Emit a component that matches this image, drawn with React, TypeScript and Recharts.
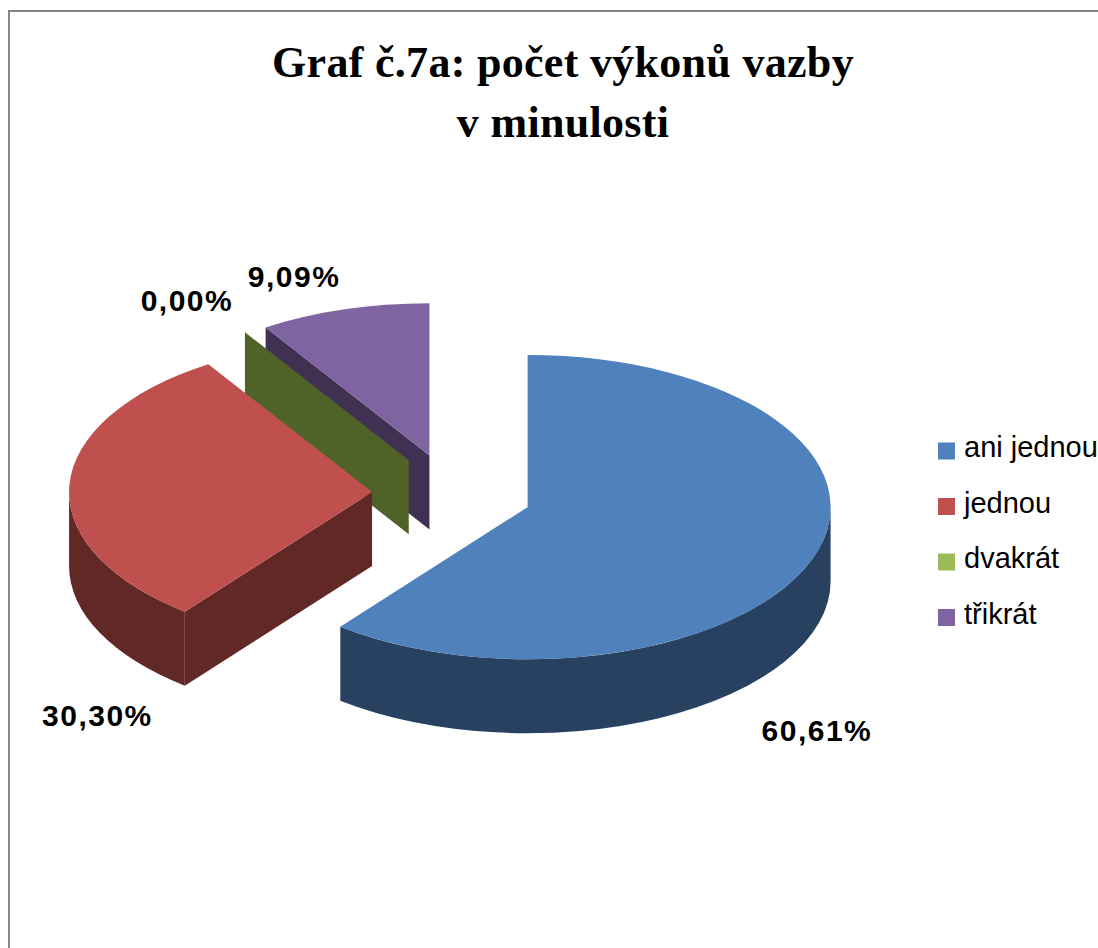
import React from 'react';
import { PieChart, Pie, Legend } from 'recharts';

// ---- data ----
const CATEGORIES = ['ani jednou', 'jednou', 'dvakrát', 'třikrát'];
const COUNTS = [20, 10, 0, 3];
const TITLE_LINES = ['Graf č.7a: počet výkonů vazby', 'v minulosti'];

// ---- styles ----
const TOP_COLORS = ['#4F81BD', '#C0504D', '#9BBB59', '#8064A2'];
const SIDE_COLORS = ['#284161', '#612826', '#4F6228', '#403152'];
const LABEL_NUDGE: [number, number][] = [
  [3, 184],
  [28, 241],
  [-58, -21],
  [-50, -23],
];

const TILT = 0.502; // vertical squash of the pie plane
const DEPTH = 74; // thickness of the 3D pie
const EXPLODE = 80; // explosion distance
const DEG = Math.PI / 180;

const TOTAL = COUNTS.reduce((a, b) => a + b, 0);

// back-to-front draw order (same angular layout, counter-clockwise from 12 o'clock)
const DRAW_ORDER = [3, 2, 1, 0];
const pieData = DRAW_ORDER.map((i) => ({ name: CATEGORIES[i], value: COUNTS[i], idx: i }));

function geom(props: any) {
  const { cx, cy, outerRadius } = props;
  const a0 = Math.min(props.startAngle, props.endAngle);
  const a1 = Math.max(props.startAngle, props.endAngle);
  const mid = (a0 + a1) / 2;
  const rx = outerRadius;
  const ry = outerRadius * TILT;
  const ox = cx + EXPLODE * Math.cos(mid * DEG);
  const oy = cy - EXPLODE * TILT * Math.sin(mid * DEG);
  const pt = (a: number, dz = 0): [number, number] => [
    ox + rx * Math.cos(a * DEG),
    oy - ry * Math.sin(a * DEG) + dz,
  ];
  return { a0, a1, mid, rx, ry, ox, oy, pt };
}

function getIdx(props: any): number {
  if (typeof props.idx === 'number') return props.idx;
  if (props.payload && typeof props.payload.idx === 'number') return props.payload.idx;
  return CATEGORIES.indexOf(props.name);
}

function Slice3D(props: any) {
  const { a0, a1, rx, ry, ox, oy, pt } = geom(props);
  const idx = getIdx(props);
  const top = TOP_COLORS[idx];
  const side = SIDE_COLORS[idx];
  const parts: React.ReactNode[] = [];

  const face = (a: number, key: string) => {
    const p = pt(a);
    const q = pt(a, DEPTH);
    parts.push(
      <path
        key={key}
        d={`M${ox},${oy} L${p[0]},${p[1]} L${q[0]},${q[1]} L${ox},${oy + DEPTH} Z`}
        fill={side}
      />
    );
  };
  // radial faces facing the viewer
  if (Math.cos(a0 * DEG) > 1e-6) face(a0, 'fs');
  if (Math.cos(a1 * DEG) < -1e-6) face(a1, 'fe');

  // outer curved wall (front half only)
  [-360, 0, 360, 720].forEach((base) => {
    const lo = Math.max(a0, 180 + base);
    const hi = Math.min(a1, 360 + base);
    if (hi - lo > 0.01) {
      const p0 = pt(lo);
      const p1 = pt(hi);
      const q1 = pt(hi, DEPTH);
      const q0 = pt(lo, DEPTH);
      parts.push(
        <path
          key={`w${base}`}
          d={`M${p0[0]},${p0[1]} A${rx},${ry} 0 0 0 ${p1[0]},${p1[1]} L${q1[0]},${q1[1]} A${rx},${ry} 0 0 1 ${q0[0]},${q0[1]} Z`}
          fill={side}
        />
      );
    }
  });

  // top face
  if (a1 - a0 > 0.01) {
    const p0 = pt(a0);
    const p1 = pt(a1);
    const large = a1 - a0 > 180 ? 1 : 0;
    parts.push(
      <path
        key="top"
        d={`M${ox},${oy} L${p0[0]},${p0[1]} A${rx},${ry} 0 ${large} 0 ${p1[0]},${p1[1]} Z`}
        fill={top}
      />
    );
  }
  return <g>{parts}</g>;
}

function renderLabel(props: any) {
  const { mid, pt } = geom(props);
  const idx = getIdx(props);
  const p = pt(mid);
  const [dx, dy] = LABEL_NUDGE[idx];
  const pct = ((COUNTS[idx] / TOTAL) * 100).toFixed(2).replace('.', ',') + '%';
  return (
    <text
      key={`lbl${idx}`}
      x={p[0] + dx}
      y={p[1] + dy}
      textAnchor="middle"
      fontFamily="'Liberation Sans', Arial, sans-serif"
      fontWeight="bold"
      fontSize={30}
      letterSpacing={1.5}
      fill="#000"
    >
      {pct}
    </text>
  );
}

function renderLegend() {
  return (
    <svg width={200} height={240} style={{ display: 'block', overflow: 'visible' }}>
      {CATEGORIES.map((c, i) => (
        <g key={c}>
          <rect x={8} y={22.5 + i * 55.5} width={17} height={17} fill={TOP_COLORS[i]} />
          <text
            x={34}
            y={37 + i * 55.5}
            fontFamily="'Liberation Sans', Arial, sans-serif"
            fontSize={29}
            fill="#000"
          >
            {c}
          </text>
        </g>
      ))}
    </svg>
  );
}

export default function App() {
  return (
    <div
      style={{
        position: 'absolute',
        left: 0,
        top: 0,
        width: 1098,
        height: 948,
        overflow: 'hidden',
        background: '#fff',
      }}
    >
      <div
        style={{
          position: 'absolute',
          left: 8,
          top: 10,
          width: 2000,
          height: 2000,
          borderLeft: '2px solid #858585',
          borderTop: '2px solid #858585',
        }}
      />
      <div style={{ position: 'absolute', left: 0, top: 0 }}>
        <PieChart width={1098} height={948} margin={{ top: 0, right: 0, bottom: 0, left: 0 }}>
          <Pie
            data={pieData}
            dataKey="value"
            nameKey="name"
            cx={452}
            cy={494}
            outerRadius={303}
            startAngle={90}
            endAngle={450}
            stroke="none"
            isAnimationActive={false}
            label={renderLabel}
            labelLine={false}
            shape={Slice3D}
            inactiveShape={Slice3D}
            activeShape={Slice3D}
          />
          <Legend
            layout="vertical"
            align="right"
            verticalAlign="top"
            content={renderLegend}
            wrapperStyle={{ position: 'absolute', left: 930, top: 420, width: 200, height: 240 }}
          />
        </PieChart>
      </div>
      <svg
        width={1098}
        height={200}
        style={{ position: 'absolute', left: 0, top: 0, pointerEvents: 'none' }}
      >
        {TITLE_LINES.map((t, i) => (
          <text
            key={t}
            x={563}
            y={77 + i * 60}
            textAnchor="middle"
            fontFamily="'Liberation Serif', 'Times New Roman', serif"
            fontWeight="bold"
            fontSize={44}
            letterSpacing={0.3}
            fill="#000"
          >
            {t}
          </text>
        ))}
      </svg>
    </div>
  );
}
